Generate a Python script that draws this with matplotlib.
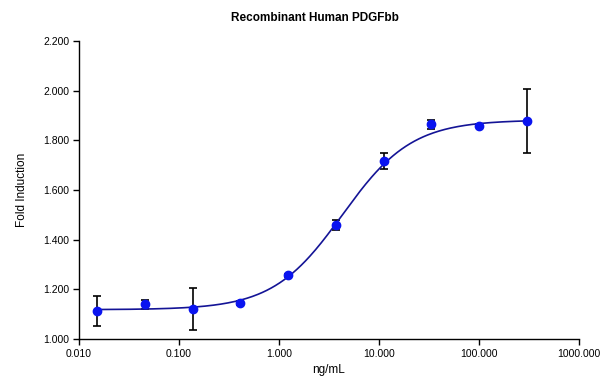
import numpy as np
import matplotlib
matplotlib.use("Agg")
import matplotlib.pyplot as plt
from matplotlib.ticker import FixedLocator, FixedFormatter

plt.rcParams['font.family'] = ['Liberation Sans', 'DejaVu Sans']

# concentration (ng/mL), 3-fold dilutions
conc = [0.0152, 0.0457, 0.137, 0.412, 1.23, 3.70, 11.1, 33.3, 100.0, 300.0]
fold = [1.113, 1.140, 1.122, 1.145, 1.257, 1.460, 1.718, 1.865, 1.858, 1.877]
err = [0.060, 0.018, 0.085, 0.008, 0.006, 0.020, 0.032, 0.018, 0.006, 0.128]

# 4PL fit parameters
bottom = 1.118
top = 1.882
ec50 = 4.3
hill = 1.25

xticks = [0.01, 0.1, 1, 10, 100, 1000]
xticklabels = ["0.010", "0.100", "1.000", "10.000", "100.000", "1000.000"]
yticks = [1.0, 1.2, 1.4, 1.6, 1.8, 2.0, 2.2]
yticklabels = ["1.000", "1.200", "1.400", "1.600", "1.800", "2.000", "2.200"]

fig = plt.figure(figsize=(6.1, 3.78), dpi=100)
ax = fig.add_axes([0.1295, 0.1032, 0.8197, 0.7883])

xs = np.logspace(np.log10(conc[0]), np.log10(conc[-1]), 300)
ys = bottom + (top - bottom) / (1 + (ec50 / xs) ** hill)
ax.plot(xs, ys, color="#141496", lw=1.2, zorder=2)

ax.errorbar(conc, fold, yerr=err, fmt="none", ecolor="black", elinewidth=1.2,
            capsize=3, capthick=1.2, zorder=1)
ax.plot(conc, fold, "o", color="#0a14f0", markersize=6, zorder=3)

ax.set_xscale("log")
ax.set_xlim(0.01, 1000)
ax.set_ylim(1.0, 2.2)
ax.xaxis.set_major_locator(FixedLocator(xticks))
ax.xaxis.set_major_formatter(FixedFormatter(xticklabels))
ax.xaxis.set_minor_locator(FixedLocator([]))
ax.set_yticks(yticks)
ax.set_yticklabels(yticklabels)

for s in ["top", "right"]:
    ax.spines[s].set_visible(False)
for s in ["left", "bottom"]:
    ax.spines[s].set_linewidth(1.0)
ax.tick_params(axis="both", direction="out", length=4, width=1.0,
               labelsize=7.5, colors="black", pad=3)

fig.text(0.516, 0.952, "Recombinant Human PDGFbb", fontsize=8.5,
         fontweight="bold", ha="center", va="center")
fig.text(0.036, 0.497, "Fold Induction", fontsize=8.5, rotation=90,
         ha="center", va="center")
fig.text(0.538, 0.022, "ng/mL", fontsize=8.5, ha="center", va="center")

fig.savefig("out.png", dpi=100)
